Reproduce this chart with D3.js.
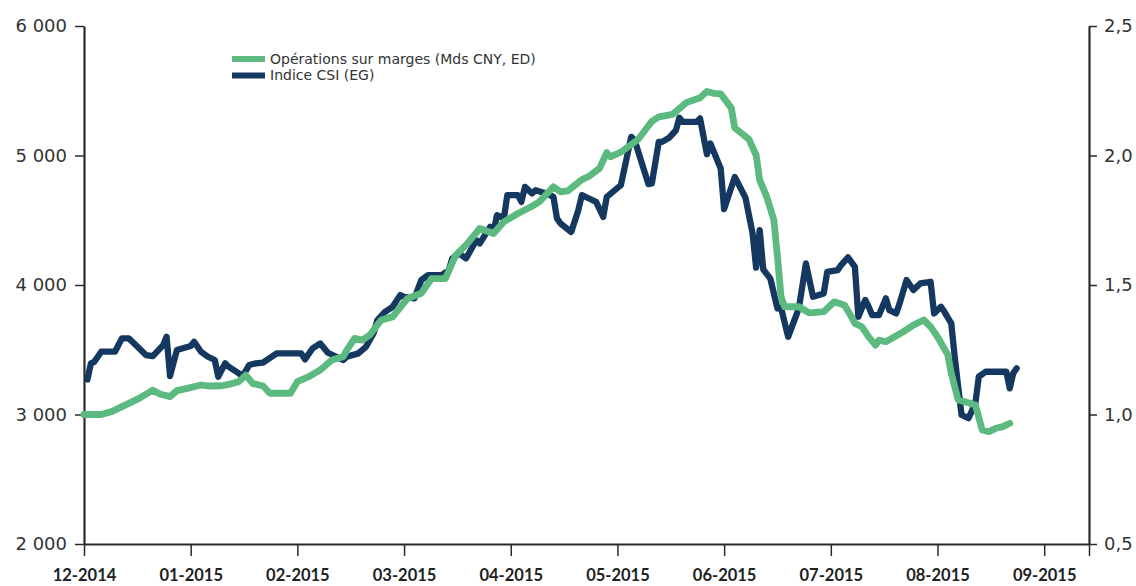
<!DOCTYPE html>
<html><head><meta charset="utf-8">
<script src="https://cdn.jsdelivr.net/npm/d3@7"></script>
<style>body{margin:0;background:#fff;}svg{display:block;}</style>
</head><body><svg id="c" width="1136" height="586"></svg>
<script>
// ---------- DATA ----------
const tickLabels = ["12-2014","01-2015","02-2015","03-2015","04-2015","05-2015","06-2015","07-2015","08-2015","09-2015"];
const leftTicks = [2000, 3000, 4000, 5000, 6000];
const rightTicks = [0.5, 1.0, 1.5, 2.0, 2.5];
const seriesNames = ["Opérations sur marges (Mds CNY, ED)", "Indice CSI (EG)"];

const csiDates = ["2014-12-02","2014-12-03","2014-12-04","2014-12-06","2014-12-10","2014-12-12","2014-12-14","2014-12-17","2014-12-19","2014-12-21","2014-12-24","2014-12-25","2014-12-26","2014-12-28","2015-01-01","2015-01-02","2015-01-04","2015-01-06","2015-01-08","2015-01-09","2015-01-11","2015-01-12","2015-01-15","2015-01-16","2015-01-18","2015-01-20","2015-01-22","2015-01-26","2015-02-02","2015-02-03","2015-02-05","2015-02-07","2015-02-09","2015-02-13","2015-02-14","2015-02-17","2015-02-19","2015-02-21","2015-02-22","2015-02-24","2015-02-26","2015-02-28","2015-03-01","2015-03-04","2015-03-06","2015-03-08","2015-03-12","2015-03-14","2015-03-15","2015-03-17","2015-03-19","2015-03-22","2015-03-23","2015-03-26","2015-03-27","2015-03-28","2015-03-30","2015-03-31","2015-04-03","2015-04-04","2015-04-05","2015-04-07","2015-04-08","2015-04-11","2015-04-13","2015-04-14","2015-04-15","2015-04-18","2015-04-20","2015-04-21","2015-04-23","2015-04-25","2015-04-27","2015-04-28","2015-05-02","2015-05-05","2015-05-06","2015-05-10","2015-05-11","2015-05-13","2015-05-14","2015-05-16","2015-05-18","2015-05-19","2015-05-20","2015-05-24","2015-05-25","2015-05-27","2015-05-28","2015-05-30","2015-05-31","2015-06-01","2015-06-04","2015-06-07","2015-06-09","2015-06-10","2015-06-11","2015-06-12","2015-06-14","2015-06-16","2015-06-17","2015-06-19","2015-06-22","2015-06-24","2015-06-26","2015-06-29","2015-06-30","2015-07-03","2015-07-04","2015-07-06","2015-07-08","2015-07-09","2015-07-11","2015-07-12","2015-07-13","2015-07-15","2015-07-17","2015-07-18","2015-07-20","2015-07-21","2015-07-23","2015-07-25","2015-07-27","2015-07-30","2015-07-31","2015-08-02","2015-08-03","2015-08-05","2015-08-06","2015-08-07","2015-08-08","2015-08-10","2015-08-12","2015-08-13","2015-08-15","2015-08-21","2015-08-22","2015-08-23","2015-08-24"];
const csiValues = [3270,3395,3407,3485,3485,3588,3588,3511,3459,3451,3536,3600,3297,3498,3529,3562,3485,3446,3421,3292,3395,3369,3318,3292,3382,3395,3400,3472,3472,3426,3511,3549,3477,3421,3446,3472,3523,3627,3729,3793,3832,3922,3909,3897,4038,4076,4076,4115,4205,4244,4205,4346,4321,4449,4410,4539,4514,4694,4694,4642,4758,4707,4732,4707,4681,4514,4475,4410,4578,4694,4668,4642,4526,4681,4771,5144,5118,4779,4784,5105,5105,5137,5195,5292,5259,5259,5286,5010,5093,4964,4900,4586,4835,4674,4398,4134,4424,4120,4049,3819,3825,3600,3819,4167,3909,3935,4102,4115,4154,4213,4140,3755,3884,3832,3768,3768,3897,3806,3781,3858,4038,3961,4012,4025,3780,3832,3793,3704,3446,3215,2996,2971,3086,3292,3330,3330,3202,3318,3357];

const marginDates = ["2014-12-01","2014-12-06","2014-12-09","2014-12-14","2014-12-17","2014-12-21","2014-12-23","2014-12-26","2014-12-28","2014-12-31","2015-01-04","2015-01-06","2015-01-10","2015-01-12","2015-01-15","2015-01-17","2015-01-19","2015-01-22","2015-01-24","2015-01-30","2015-02-01","2015-02-04","2015-02-07","2015-02-10","2015-02-13","2015-02-14","2015-02-16","2015-02-18","2015-02-20","2015-02-23","2015-02-26","2015-03-02","2015-03-06","2015-03-09","2015-03-13","2015-03-16","2015-03-19","2015-03-23","2015-03-27","2015-03-30","2015-04-03","2015-04-07","2015-04-09","2015-04-13","2015-04-15","2015-04-17","2015-04-21","2015-04-23","2015-04-26","2015-04-28","2015-04-29","2015-05-02","2015-05-07","2015-05-11","2015-05-13","2015-05-17","2015-05-21","2015-05-25","2015-05-27","2015-05-29","2015-05-31","2015-06-03","2015-06-04","2015-06-08","2015-06-10","2015-06-11","2015-06-13","2015-06-15","2015-06-16","2015-06-17","2015-06-18","2015-06-22","2015-06-25","2015-06-29","2015-07-02","2015-07-05","2015-07-07","2015-07-08","2015-07-10","2015-07-12","2015-07-14","2015-07-15","2015-07-17","2015-07-22","2015-07-25","2015-07-28","2015-07-30","2015-08-01","2015-08-04","2015-08-05","2015-08-07","2015-08-09","2015-08-12","2015-08-14","2015-08-16","2015-08-18","2015-08-20","2015-08-22"];
const marginValues = [1.000,1.000,1.011,1.043,1.062,1.094,1.079,1.069,1.092,1.101,1.114,1.110,1.111,1.116,1.127,1.152,1.120,1.110,1.082,1.082,1.127,1.146,1.172,1.210,1.223,1.249,1.294,1.287,1.307,1.365,1.377,1.448,1.468,1.525,1.525,1.615,1.654,1.718,1.699,1.744,1.776,1.804,1.821,1.879,1.860,1.863,1.907,1.920,1.951,2.011,1.995,2.013,2.062,2.132,2.149,2.159,2.204,2.223,2.247,2.240,2.238,2.184,2.107,2.062,2.001,1.905,1.840,1.750,1.609,1.455,1.416,1.416,1.392,1.397,1.435,1.422,1.377,1.352,1.339,1.300,1.268,1.287,1.281,1.319,1.345,1.365,1.339,1.300,1.230,1.159,1.056,1.049,1.037,0.940,0.934,0.947,0.953,0.966];

// ---------- CHART ----------
const svg = d3.select("#c");
const plot = {left: 84, right: 1089, top: 26, bottom: 544};
const parse = d3.timeParse("%Y-%m-%d");
// month position: 0 = start of Dec 2014, months evenly spaced
function monthPos(d) {
  const mi = (d.getFullYear() - 2014) * 12 + d.getMonth() - 11;
  const days = new Date(d.getFullYear(), d.getMonth() + 1, 0).getDate();
  return mi + (d.getDate() - 1) / days;
}
const xEnd = 9.42;
const x = d3.scaleLinear().domain([0, xEnd]).range([plot.left, plot.right]);
const yL = d3.scaleLinear().domain([2000, 6000]).range([plot.bottom, plot.top]);
const yR = d3.scaleLinear().domain([0.5, 2.5]).range([plot.bottom, plot.top]);

const csi = csiDates.map((d, i) => ({t: monthPos(parse(d)), v: csiValues[i]}));
const margin = marginDates.map((d, i) => ({t: monthPos(parse(d)), v: marginValues[i]}));

const colGreen = "#5cb97f", colNavy = "#14385f", axisCol = "#2a2a2a";

// axes
const gL = svg.append("g").attr("transform", `translate(${plot.left},0)`)
  .call(d3.axisLeft(yL).tickValues(leftTicks).tickSize(9).tickSizeOuter(0).tickPadding(8)
    .tickFormat(d => d3.format(",")(d).replace(",", " ")));
const gR = svg.append("g").attr("transform", `translate(${plot.right},0)`)
  .call(d3.axisRight(yR).tickValues(rightTicks).tickSize(8).tickSizeOuter(0).tickPadding(7)
    .tickFormat(d => d.toFixed(1).replace(".", ",")));
const gB = svg.append("g").attr("transform", `translate(0,${plot.bottom})`)
  .call(d3.axisBottom(x).tickValues(d3.range(tickLabels.length).concat([xEnd])).tickSize(12).tickSizeOuter(0).tickPadding(13)
    .tickFormat(i => tickLabels[i] || ""));

[gL, gR, gB].forEach(g => {
  g.select(".domain").attr("stroke", axisCol).attr("stroke-width", 2.2);
  g.selectAll(".tick line").attr("stroke", axisCol).attr("stroke-width", 1.5);
});
[gL, gR].forEach(g => g.selectAll(".tick text")
  .attr("font-family", "'DejaVu Sans', sans-serif").attr("font-size", 18).attr("fill", "#333"));
gB.selectAll(".tick text").attr("font-family", "Lato, sans-serif").attr("font-weight", "bold")
  .attr("font-size", 16.5).attr("fill", "#222");

// lines
const lineL = d3.line().x(d => x(d.t)).y(d => yL(d.v));
const lineR = d3.line().x(d => x(d.t)).y(d => yR(d.v));
svg.append("path").datum(csi).attr("d", lineL).attr("fill", "none")
  .attr("stroke", colNavy).attr("stroke-width", 6.3).attr("stroke-linejoin", "round").attr("stroke-linecap", "round");
svg.append("path").datum(margin).attr("d", lineR).attr("fill", "none")
  .attr("stroke", colGreen).attr("stroke-width", 6.8).attr("stroke-linejoin", "round").attr("stroke-linecap", "round");

// legend
const legend = svg.append("g").attr("transform", "translate(232,59)");
[colGreen, colNavy].forEach((c, i) => {
  const g = legend.append("g").attr("transform", `translate(0,${i * 16.5})`);
  g.append("rect").attr("x", 0).attr("y", -3).attr("width", 33).attr("height", 6).attr("fill", c);
  g.append("text").attr("x", 38).attr("y", 4.5).attr("font-family", "'DejaVu Sans', sans-serif")
    .attr("font-size", 14).attr("fill", "#333").text(seriesNames[i]);
});
</script>
</body></html>
